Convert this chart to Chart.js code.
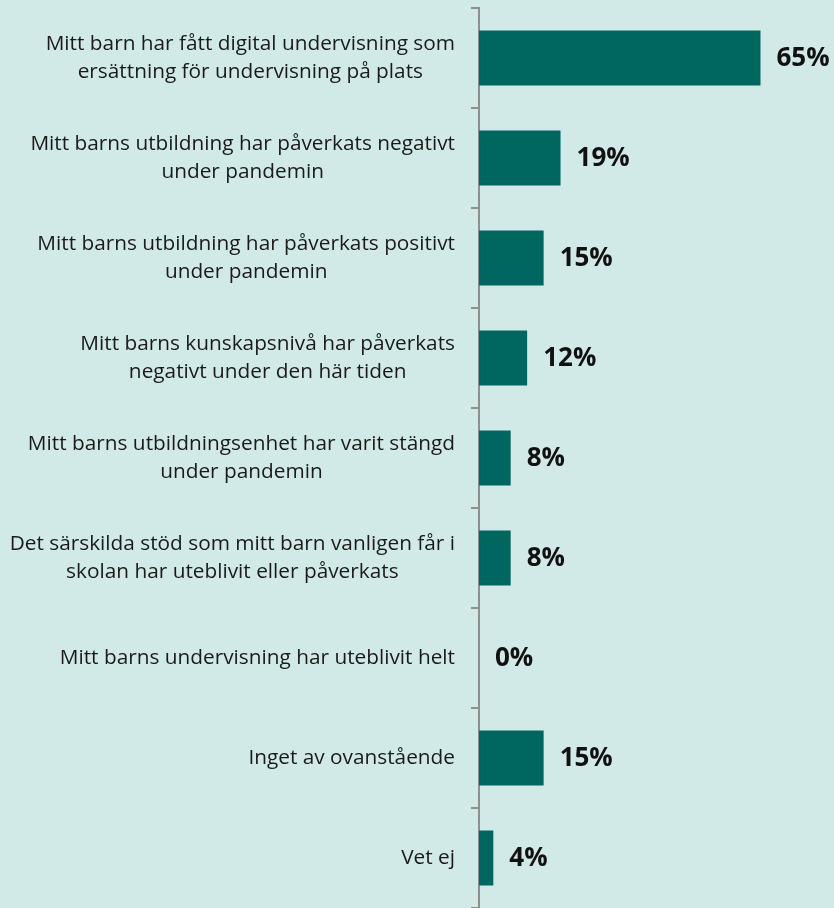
<!DOCTYPE html>
<html>
<head>
<meta charset="utf-8">
<script src="https://cdn.jsdelivr.net/npm/chart.js@4"></script>
<style>
  html, body { margin: 0; padding: 0; background: #d2eae7; }
  #wrap { width: 834px; height: 908px; position: relative; }
</style>
</head>
<body>
<div id="wrap"><canvas id="c" width="834" height="908"></canvas></div>
<script>
const categories = [
  ["Mitt barn har fått digital undervisning som", "ersättning för undervisning på plats"],
  ["Mitt barns utbildning har påverkats negativt", "under pandemin"],
  ["Mitt barns utbildning har påverkats positivt", "under pandemin"],
  ["Mitt barns kunskapsnivå har påverkats", "negativt under den här tiden"],
  ["Mitt barns utbildningsenhet har varit stängd", "under pandemin"],
  ["Det särskilda stöd som mitt barn vanligen får i", "skolan har uteblivit eller påverkats"],
  ["Mitt barns undervisning har uteblivit helt"],
  ["Inget av ovanstående"],
  ["Vet ej"]
];
// bar lengths (unrounded)
const values = [64.9, 18.8, 14.9, 11.1, 7.3, 7.3, 0, 14.9, 3.3];
// printed labels
const valueLabels = ["65%", "19%", "15%", "12%", "8%", "8%", "0%", "15%", "4%"];

const LABEL_FONT = '20.8px "Open Sans", sans-serif';
const LINE_H = 28;

const labelPlugin = {
  id: 'catLabels',
  afterDraw(chart) {
    const ctx = chart.ctx;
    const y = chart.scales.y;
    ctx.save();
    ctx.font = LABEL_FONT;
    ctx.fillStyle = '#1a1a1a';
    ctx.textAlign = 'center';
    ctx.textBaseline = 'middle';
    const rightEdge = y.right - 24;
    categories.forEach((lines, i) => {
      const cy = y.getPixelForTick(i);
      const w = Math.max(...lines.map(l => ctx.measureText(l).width));
      const cx = rightEdge - w / 2;
      const top = cy - (lines.length - 1) * LINE_H / 2;
      lines.forEach((l, j) => ctx.fillText(l, cx, top + j * LINE_H));
    });
    ctx.restore();
  }
};

const dataLabelPlugin = {
  id: 'dataLabels',
  afterDatasetsDraw(chart) {
    const ctx = chart.ctx;
    const meta = chart.getDatasetMeta(0);
    ctx.save();
    ctx.font = 'bold 26px "Open Sans", sans-serif';
    ctx.fillStyle = '#111111';
    ctx.textAlign = 'left';
    ctx.textBaseline = 'middle';
    meta.data.forEach((bar, i) => {
      ctx.fillText(valueLabels[i], bar.x + 16, bar.y + 1);
    });
    ctx.restore();
  }
};

new Chart(document.getElementById('c'), {
  type: 'bar',
  data: {
    labels: categories.map(c => c.join(' ')),
    datasets: [{
      data: values,
      backgroundColor: '#006660',
      borderWidth: 0,
      barPercentage: 0.55,
      categoryPercentage: 1.0
    }]
  },
  options: {
    indexAxis: 'y',
    responsive: false,
    animation: false,
    layout: { padding: { top: 8, bottom: 0, left: 0, right: 8 } },
    plugins: { legend: { display: false }, tooltip: { enabled: false } },
    scales: {
      x: {
        display: false,
        min: 0,
        max: 80
      },
      y: {
        afterFit(scale) { scale.width = 479; scale.paddingTop = 0; scale.paddingBottom = 0; },
        border: { display: true, color: '#8f8f8f', width: 2 },
        grid: {
          display: true,
          drawOnChartArea: false,
          drawTicks: true,
          tickLength: 8,
          offset: true,
          color: '#8f8f8f',
          lineWidth: 2
        },
        ticks: {
          padding: 16,
          color: 'rgba(0,0,0,0)',
          font: { size: 10 }
        }
      }
    }
  },
  plugins: [dataLabelPlugin, labelPlugin]
});
</script>
</body>
</html>
